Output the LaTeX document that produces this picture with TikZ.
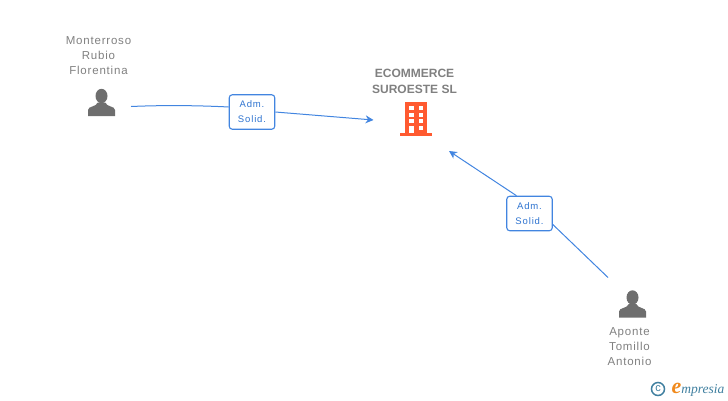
\documentclass[tikz,border=0pt]{standalone}
\usepackage{fontspec}
\setmainfont{Liberation Sans}
\newfontfamily\spacedfont[LetterSpace=7]{Liberation Sans}
\newfontfamily\badgefont[LetterSpace=9]{Liberation Sans}
\newfontfamily\logofont[Ligatures=TeX]{Liberation Serif}
\usetikzlibrary{arrows.meta}
\definecolor{linkblue}{HTML}{4285E0}
\definecolor{badgeblue}{HTML}{2F74D0}
\definecolor{namegray}{HTML}{808080}
\definecolor{icongray}{HTML}{6E6E6E}
\definecolor{buildorange}{HTML}{FF5A30}
\definecolor{logoteal}{HTML}{3F7F9F}
\definecolor{logoorange}{HTML}{F08A1D}
\tikzset{
  personname/.style={align=center,text=namegray,font=\spacedfont\fontsize{11.5}{15}\selectfont,inner sep=0pt},
  companyname/.style={align=center,text=namegray,font=\bfseries\fontsize{12}{16}\selectfont,inner sep=0pt},
  badge/.style={draw=linkblue,line width=1.1pt,rounded corners=3pt,fill=white,text=badgeblue,
    align=center,minimum width=45.5pt,minimum height=34.5pt,inner sep=0pt,
    font=\badgefont\fontsize{9.5}{15}\selectfont},
  link/.style={draw=linkblue,line width=1pt},
  linkarrow/.style={link,-{Stealth[length=8pt,width=8pt]}},
  pics/personicon/.style={code={
    \fill[icongray] (0,-6.5) ellipse (6 and 7.2);
    \fill[icongray] (-13.5,13.5) -- (-13.5,7.5) .. controls (-13.5,3.5) and (-5,4.5) .. (-3.8,0)
      -- (3.8,0) .. controls (5,4.5) and (13.5,3.5) .. (13.5,7.5) -- (13.5,13.5) -- cycle;
  }}
}
\begin{document}
\begin{tikzpicture}[x=1pt,y=-1pt]
  \useasboundingbox (0,0) rectangle (728,400);
  % people
  \node[personname] (monterroso) at (98.5,55.5) {Monterroso\\Rubio\\Florentina};
  \pic at (101.5,102.5) {personicon};
  \node[personname] (aponte) at (629.5,346.5) {Aponte\\Tomillo\\Antonio};
  \pic at (632.5,304) {personicon};
  % company
  \node[companyname] (ecommerce) at (414.5,81) {ECOMMERCE\\SUROESTE SL};
  \fill[buildorange] (405,102) rectangle (427,133);
  \fill[buildorange] (400,132.5) rectangle (432,135.5);
  \foreach \wy in {106,112.5,119}
    \foreach \wx in {409,418.5}
      \fill[white] (\wx,\wy) rectangle +(4.8,4.2);
  \fill[white] (409,125.5) rectangle +(4.8,7.5);
  \fill[white] (418.5,125.5) rectangle +(4.8,4.2);
  % badges
  \node[badge] (solid1) at (252,112) {Adm.\\Solid.};
  \node[badge] (solid2) at (529.5,213.5) {Adm.\\Solid.};
  % connectors
  \coordinate (from1) at (131,106.5);
  \coordinate (to1) at (373.5,120);
  \coordinate (from2) at (608,277.5);
  \coordinate (to2) at (449,151);
  \draw[link] (from1) .. controls (165,105) and (200,105.5) .. ([yshift=5pt]solid1.west);
  \draw[linkarrow] (solid1.east) -- (to1);
  \draw[link] (from2) -- ([yshift=-11pt]solid2.east);
  \draw[linkarrow] ([xshift=-13pt]solid2.north) -- (to2);
  % logo
  \node[circle,draw=logoteal,line width=1.5pt,text=logoteal,inner sep=0pt,minimum size=13pt,
    font=\fontsize{11}{11}\selectfont] (copyr) at (658,389) {c};
  \node[anchor=west,inner sep=0pt,text=logoteal,font=\logofont\itshape\fontsize{13.5}{13.5}\selectfont]
    (logo) at (671.5,389.5) {\textcolor{logoorange}{\bfseries\fontsize{22}{22}\selectfont e}mpresia};
\end{tikzpicture}
\end{document}
